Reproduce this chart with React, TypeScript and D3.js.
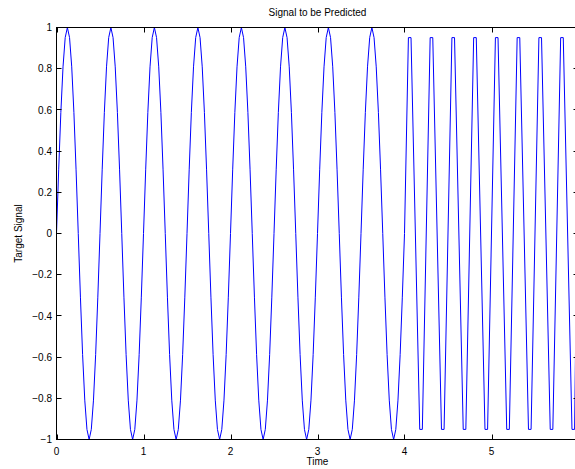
import React from "react";
import * as d3 from "d3";

// Segment 1: sampled every 0.025 s from 0 to 4 s
const seg1Step = 0.025;
const seg1Values = [
  0, 0.309, 0.588, 0.809, 0.951, 1, 0.951, 0.809, 0.588, 0.309, 0, -0.309, -0.588, -0.809, -0.951, -1, -0.951, -0.809, -0.588, -0.309,
  0, 0.309, 0.588, 0.809, 0.951, 1, 0.951, 0.809, 0.588, 0.309, 0, -0.309, -0.588, -0.809, -0.951, -1, -0.951, -0.809, -0.588, -0.309,
  0, 0.309, 0.588, 0.809, 0.951, 1, 0.951, 0.809, 0.588, 0.309, 0, -0.309, -0.588, -0.809, -0.951, -1, -0.951, -0.809, -0.588, -0.309,
  0, 0.309, 0.588, 0.809, 0.951, 1, 0.951, 0.809, 0.588, 0.309, 0, -0.309, -0.588, -0.809, -0.951, -1, -0.951, -0.809, -0.588, -0.309,
  0, 0.309, 0.588, 0.809, 0.951, 1, 0.951, 0.809, 0.588, 0.309, 0, -0.309, -0.588, -0.809, -0.951, -1, -0.951, -0.809, -0.588, -0.309,
  0, 0.309, 0.588, 0.809, 0.951, 1, 0.951, 0.809, 0.588, 0.309, 0, -0.309, -0.588, -0.809, -0.951, -1, -0.951, -0.809, -0.588, -0.309,
  0, 0.309, 0.588, 0.809, 0.951, 1, 0.951, 0.809, 0.588, 0.309, 0, -0.309, -0.588, -0.809, -0.951, -1, -0.951, -0.809, -0.588, -0.309,
  0, 0.309, 0.588, 0.809, 0.951, 1, 0.951, 0.809, 0.588, 0.309, 0, -0.309, -0.588, -0.809, -0.951, -1, -0.951, -0.809, -0.588, -0.309,
  0,
];

// Segment 2: from 4 to 6 s (times and values)
const seg2Times = [
  4.045, 4.075, 4.175, 4.205,
  4.295, 4.325, 4.425, 4.455,
  4.545, 4.575, 4.675, 4.705,
  4.795, 4.825, 4.925, 4.955,
  5.045, 5.075, 5.175, 5.205,
  5.295, 5.325, 5.425, 5.455,
  5.545, 5.575, 5.675, 5.705,
  5.795, 5.825, 5.925, 5.955,
  5.99,
];
const seg2Values = [
  0.951, 0.951, -0.951, -0.951,
  0.951, 0.951, -0.951, -0.951,
  0.951, 0.951, -0.951, -0.951,
  0.951, 0.951, -0.951, -0.951,
  0.951, 0.951, -0.951, -0.951,
  0.951, 0.951, -0.951, -0.951,
  0.951, 0.951, -0.951, -0.951,
  0.951, 0.951, -0.951, -0.951,
  0.3,
];

const xTicks = [0, 1, 2, 3, 4, 5];
const yTicks = [1, 0.8, 0.6, 0.4, 0.2, 0, -0.2, -0.4, -0.6, -0.8, -1];
const titleText = "Signal to be Predicted";
const xLabelText = "Time";
const yLabelText = "Target Signal";

export default function App() {
  const W = 575;
  const H = 469;
  const left = 56.5;
  const right = 578.5;
  const top = 27.5;
  const bottom = 439.5;
  const x = d3.scaleLinear().domain([0, 6]).range([left, right]);
  const y = d3.scaleLinear().domain([-1, 1]).range([bottom, top]);

  const pts: [number, number][] = [];
  seg1Values.forEach((v, i) => pts.push([i * seg1Step, v]));
  seg2Times.forEach((t, i) => pts.push([t, seg2Values[i]]));
  const line = d3
    .line<[number, number]>()
    .x((d) => x(d[0]))
    .y((d) => y(d[1]));

  const font = "Liberation Sans, Arial, Helvetica, sans-serif";
  const tl = 5;

  return (
    <svg
      width={W}
      height={H}
      style={{ position: "absolute", left: 0, top: 0, background: "#fff" }}
      fontFamily={font}
      fontSize={10}
    >
      <rect x={0} y={0} width={W} height={H} fill="#fff" />
      <path d={line(pts) || ""} fill="none" stroke="#0000ff" strokeWidth={1} />
      {/* box */}
      <rect x={left} y={top} width={right - left} height={bottom - top} fill="none" stroke="#000" strokeWidth={1} />
      {/* x ticks */}
      {xTicks.map((t) => {
        const px = Math.round(x(t)) + 0.5;
        return (
          <g key={"xt" + t}>
            <line x1={px} x2={px} y1={bottom} y2={bottom - tl} stroke="#000" />
            <line x1={px} x2={px} y1={top} y2={top + tl} stroke="#000" />
            <text x={x(t)} y={455} textAnchor="middle" fill="#000">
              {t}
            </text>
          </g>
        );
      })}
      {/* y ticks */}
      {yTicks.map((t) => {
        const py = Math.round(y(t) - 0.5) + 0.5;
        return (
          <g key={"yt" + t}>
            <line x1={left} x2={left + tl} y1={py} y2={py} stroke="#000" />
            <line x1={right} x2={right - tl} y1={py} y2={py} stroke="#000" />
            <text x={52} y={y(t)} dy="0.36em" textAnchor="end" fill="#000">
              {String(t).replace("-", "\u2212")}
            </text>
          </g>
        );
      })}
      <text x={(left + right) / 2} y={16} textAnchor="middle" fill="#000">
        {titleText}
      </text>
      <text x={(left + right) / 2} y={465} textAnchor="middle" fill="#000">
        {xLabelText}
      </text>
      <text
        transform={`translate(22, ${(top + bottom) / 2}) rotate(-90)`}
        textAnchor="middle"
        fill="#000"
      >
        {yLabelText}
      </text>
    </svg>
  );
}
